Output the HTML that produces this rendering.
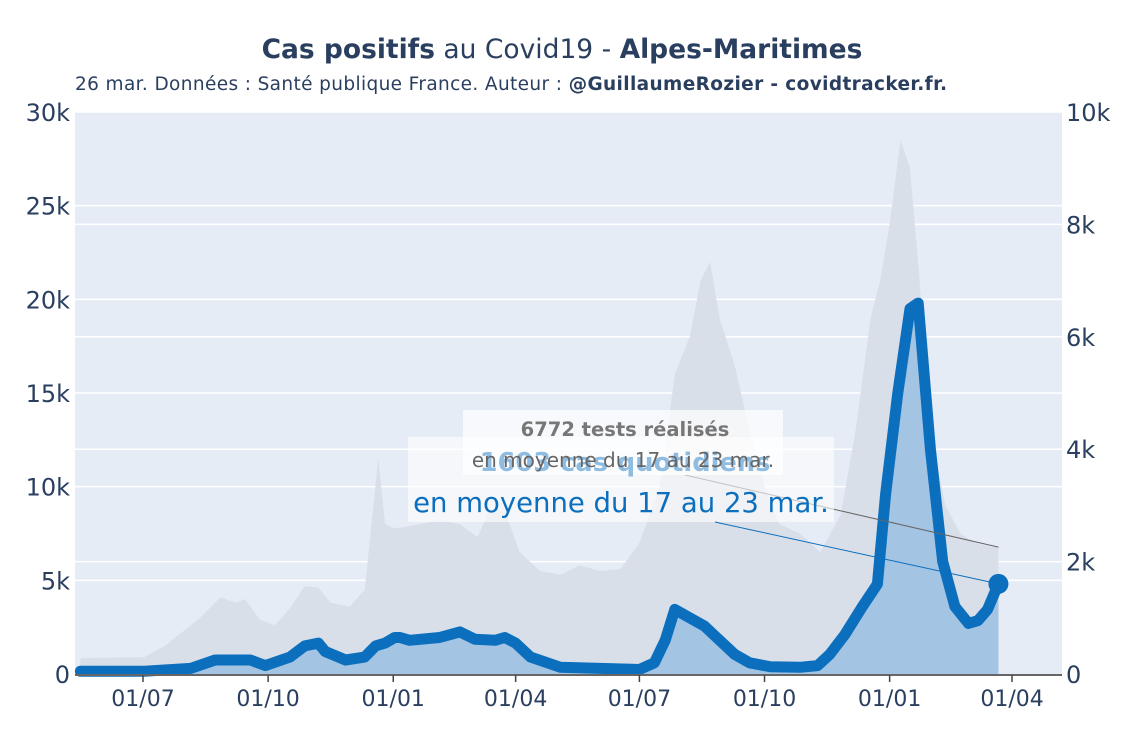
<!DOCTYPE html>
<html><head><meta charset="utf-8"><style>
body{margin:0;background:#fff;font-family:"Liberation Sans",sans-serif;}
</style></head><body>
<svg id="chart" width="1125" height="750" style="font-family:'DejaVu Sans','Liberation Sans',sans-serif">
<text x="562" y="58" text-anchor="middle" font-size="26.5" fill="#2a3f5f"><tspan font-weight="bold">Cas positifs</tspan> au Covid19 - <tspan font-weight="bold">Alpes-Maritimes</tspan></text>
<text x="75" y="90" font-size="18.5" fill="#2a3f5f" textLength="872">26 mar. Données : Santé publique France. Auteur : <tspan font-weight="bold">@GuillaumeRozier - covidtracker.fr.</tspan></text>
<rect x="75" y="112" width="987" height="562" fill="#e5ecf6"/>
<g id="grid"></g>
<g id="marks"></g>
<g id="axes"></g>
<g id="ann"></g>
</svg>
<script>
const testDays=[-46,1,16,42,57,68,75,86,97,108,119,129,138,152,163,168,173,178,184,189,218,233,246,255,266,277,292,307,321,336,351,365,380,391,402,410,417,424,435,446,457,468,483,498,513,524,535,542,549,557,564,571,579,590,601,612,623,629];
const testVals=[0.85,0.9,1.5,3,4.1,3.8,4.0,2.9,2.6,3.5,4.7,4.6,3.8,3.6,4.5,8,11.5,8,7.8,7.8,8.2,8.0,7.3,8.8,8.7,6.5,5.5,5.3,5.8,5.5,5.6,7,10,16,18,21,22,19,16.5,13,10,8,7.5,6.5,8.5,13,19,21,24,28.5,27,21,13,9,7.5,7,6.8,6.772];
const caseDays=[-46,1,35,53,79,90,108,119,129,134,149,163,171,178,185,189,196,218,233,244,259,266,274,285,307,336,365,376,384,391,402,413,424,435,446,461,483,496,505,516,529,540,546,555,564,570,579,588,597,607,614,621,629];
const caseVals=[0.05,0.05,0.1,0.25,0.25,0.15,0.3,0.5,0.55,0.4,0.25,0.3,0.5,0.55,0.65,0.65,0.6,0.65,0.75,0.62,0.6,0.65,0.55,0.3,0.12,0.1,0.08,0.2,0.6,1.15,1.0,0.85,0.6,0.35,0.2,0.13,0.12,0.15,0.35,0.7,1.2,1.6,3.2,5.0,6.5,6.6,4.0,2.0,1.2,0.9,0.95,1.15,1.603];
const leftTicks=[0,5,10,15,20,25,30];
const rightTicks=[0,2,4,6,8,10];
const xTickDays=[0,92,184,274,365,457,549,639];
const xTickLabels=["01/07","01/10","01/01","01/04","01/07","01/10","01/01","01/04"];
const NS="http://www.w3.org/2000/svg";
const X=d=>143+d*1.36;
const YL=v=>674-v*562/30;
const YR=v=>674-v*562/10;
function mk(tag,attrs,parent){const e=document.createElementNS(NS,tag);for(const k in attrs)e.setAttribute(k,attrs[k]);document.getElementById(parent).appendChild(e);return e;}
leftTicks.forEach(t=>{if(t>0){const l=mk('line',{x1:75,x2:1062,y1:YL(t),y2:YL(t),stroke:'#fff','stroke-width':1.5},'grid');

}
const tx=mk('text',{x:70,y:YL(t)+9,'text-anchor':'end','font-size':24,fill:'#2a3f5f'},'axes');tx.textContent=t===0?'0':t+'k';

});
rightTicks.forEach(t=>{if(t>0&&t<10){const l=mk('line',{x1:75,x2:1062,y1:YR(t),y2:YR(t),stroke:'#fff','stroke-width':1.5},'grid');

}
const tx=mk('text',{x:1066,y:YR(t)+9,'font-size':24,fill:'#2a3f5f'},'axes');tx.textContent=t===0?'0':t+'k';

});
let p='M'+X(testDays[0])+','+674;testDays.forEach((d,i)=>p+=' L'+X(d).toFixed(1)+','+YL(testVals[i]).toFixed(1));p+=' L'+X(testDays[testDays.length-1])+',674 Z';
const ta=mk('path',{d:p,fill:'#d9dfe8'},'marks');


let p2='M'+X(caseDays[0])+',674';let lp='';caseDays.forEach((d,i)=>{const s=X(d).toFixed(1)+','+YR(caseVals[i]).toFixed(1);p2+=' L'+s;lp+=(i?' L':'M')+s;});p2+=' L'+X(caseDays[caseDays.length-1])+',674 Z';
const ca=mk('path',{d:p2,fill:'#a3c4e2'},'marks');


const cl=mk('path',{d:lp,fill:'none',stroke:'#0b6fbe','stroke-width':11,'stroke-linejoin':'round','stroke-linecap':'round'},'marks');


const li=caseDays.length-1;
const dot=mk('circle',{cx:X(caseDays[li]),cy:YR(caseVals[li]),r:10,fill:'#0b6fbe'},'marks');


const ax=mk('line',{x1:75,x2:1062,y1:675,y2:675,stroke:'#666','stroke-width':2},'axes');


xTickDays.forEach((d,i)=>{const tk=mk('line',{x1:X(d),x2:X(d),y1:675,y2:682,stroke:'#444','stroke-width':1.5},'axes');


const tx=mk('text',{x:X(d),y:706,'text-anchor':'middle','font-size':22,fill:'#2a3f5f'},'axes');tx.textContent=xTickLabels[i];

});
const lt=testDays.length-1;
const g1=mk('line',{x1:685,y1:475,x2:X(testDays[lt]),y2:YL(testVals[lt]),stroke:'#666','stroke-width':1},'ann');


const b1=mk('rect',{x:463,y:410,width:320,height:65,fill:'#fff','fill-opacity':0.7},'ann');


const t1=mk('text',{x:625,y:436,'text-anchor':'middle','font-size':19.5,'font-weight':'bold',fill:'#777'},'ann');t1.textContent='6772 tests réalisés';


const b2=mk('rect',{x:408,y:437,width:426,height:85,fill:'#fff','fill-opacity':0.6},'ann');


const t3=mk('text',{x:625,y:471,'text-anchor':'middle','font-size':25.7,'font-weight':'bold',fill:'#0b6fbe','fill-opacity':0.45},'ann');t3.textContent='1603 cas quotidiens';


const t2=mk('text',{x:623,y:467,'text-anchor':'middle','font-size':20,fill:'#666'},'ann');t2.textContent='en moyenne du 17 au 23 mar.';


const t4=mk('text',{x:621,y:512,'text-anchor':'middle','font-size':27.5,fill:'#0b6fbe'},'ann');t4.textContent='en moyenne du 17 au 23 mar.';


const g2=mk('line',{x1:715,y1:522,x2:X(caseDays[li]),y2:YR(caseVals[li]),stroke:'#0b6fbe','stroke-width':1},'ann');


</script>
</body></html>
